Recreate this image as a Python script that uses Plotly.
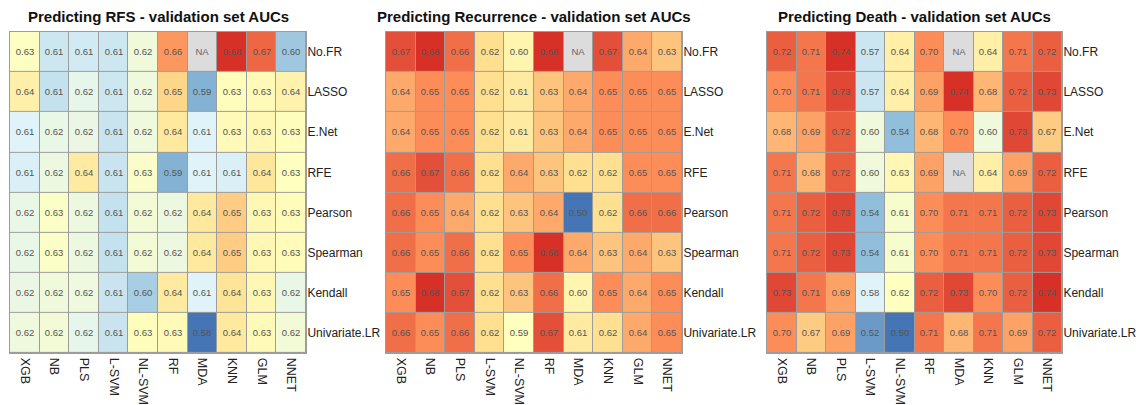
import plotly.graph_objects as go

models = ["XGB", "NB", "PLS", "L-SVM", "NL-SVM", "RF", "MDA", "KNN", "GLM", "NNET"]
selectors = ["No.FR", "LASSO", "E.Net", "RFE", "Pearson", "Spearman", "Kendall", "Univariate.LR"]
titles = ["Predicting RFS - validation set AUCs",
          "Predicting Recurrence - validation set AUCs",
          "Predicting Death - validation set AUCs"]
NA = None

auc_rfs = [
    [0.628, 0.608, 0.609, 0.608, 0.621, 0.661, NA, 0.680, 0.670, 0.598],
    [0.637, 0.606, 0.616, 0.608, 0.620, 0.648, 0.592, 0.630, 0.632, 0.636],
    [0.612, 0.617, 0.618, 0.607, 0.620, 0.641, 0.612, 0.632, 0.633, 0.630],
    [0.611, 0.619, 0.640, 0.607, 0.626, 0.592, 0.612, 0.611, 0.642, 0.629],
    [0.617, 0.627, 0.619, 0.606, 0.622, 0.619, 0.641, 0.650, 0.633, 0.631],
    [0.617, 0.627, 0.619, 0.606, 0.622, 0.619, 0.641, 0.650, 0.633, 0.631],
    [0.618, 0.621, 0.620, 0.607, 0.600, 0.640, 0.612, 0.644, 0.633, 0.617],
    [0.620, 0.622, 0.616, 0.607, 0.630, 0.632, 0.578, 0.641, 0.632, 0.622],
]
auc_recurrence = [
    [0.67, 0.68, 0.66, 0.62, 0.60, 0.68, NA, 0.67, 0.64, 0.63],
    [0.64, 0.65, 0.65, 0.62, 0.61, 0.63, 0.64, 0.65, 0.65, 0.65],
    [0.64, 0.65, 0.65, 0.62, 0.61, 0.63, 0.64, 0.65, 0.65, 0.65],
    [0.66, 0.67, 0.66, 0.62, 0.64, 0.63, 0.62, 0.62, 0.65, 0.65],
    [0.66, 0.65, 0.64, 0.62, 0.63, 0.64, 0.50, 0.62, 0.66, 0.66],
    [0.66, 0.65, 0.66, 0.62, 0.65, 0.68, 0.64, 0.63, 0.64, 0.63],
    [0.65, 0.68, 0.67, 0.62, 0.63, 0.66, 0.60, 0.65, 0.64, 0.65],
    [0.66, 0.65, 0.66, 0.62, 0.59, 0.67, 0.61, 0.62, 0.64, 0.65],
]
auc_death = [
    [0.72, 0.71, 0.74, 0.57, 0.64, 0.70, NA, 0.64, 0.71, 0.72],
    [0.70, 0.71, 0.73, 0.57, 0.64, 0.69, 0.74, 0.68, 0.72, 0.73],
    [0.68, 0.69, 0.72, 0.60, 0.54, 0.68, 0.70, 0.60, 0.73, 0.67],
    [0.71, 0.68, 0.72, 0.60, 0.63, 0.69, NA, 0.64, 0.69, 0.72],
    [0.71, 0.72, 0.73, 0.54, 0.61, 0.70, 0.71, 0.71, 0.72, 0.73],
    [0.71, 0.72, 0.73, 0.54, 0.61, 0.70, 0.71, 0.71, 0.72, 0.73],
    [0.73, 0.71, 0.69, 0.58, 0.62, 0.72, 0.73, 0.70, 0.72, 0.74],
    [0.70, 0.67, 0.69, 0.52, 0.50, 0.71, 0.68, 0.71, 0.69, 0.72],
]
panels = [auc_rfs, auc_recurrence, auc_death]

palette = ["#4575b4", "#91bfdb", "#e0f3f8", "#ffffbf", "#fee090", "#fc8d59", "#d73027"]
colorscale = [[i / 6, c] for i, c in enumerate(palette)]

W, H = 1143, 405
x_px = [(10, 306), (386, 682), (767, 1062)]
y_dom = [1 - 355 / H, 1 - 32 / H]
FONT = "Liberation Sans, Arial, sans-serif"
GRID = "#9c9c9c"

fig = go.Figure()
for k, (z, (x0, x1), title) in enumerate(zip(panels, x_px, titles)):
    ax = "" if k == 0 else str(k + 1)
    fig.add_trace(go.Heatmap(
        z=z, x=models, y=selectors, colorscale=colorscale, showscale=False,
        xgap=1, ygap=1, texttemplate="%{z:.2f}",
        textfont=dict(family=FONT, size=9.5, color="#555555"),
        xaxis="x" + ax, yaxis="y" + ax, hoverongaps=False))
    na_z = [[1 if v is None else None for v in row] for row in z]
    na_txt = [["NA" if v is None else "" for v in row] for row in z]
    fig.add_trace(go.Heatmap(
        z=na_z, x=models, y=selectors, text=na_txt, texttemplate="%{text}",
        colorscale=[[0, "#dcdcdc"], [1, "#dcdcdc"]], showscale=False,
        xgap=1, ygap=1, textfont=dict(family=FONT, size=9.5, color="#666666"),
        xaxis="x" + ax, yaxis="y" + ax, hoverongaps=False))
    dom = [x0 / W, x1 / W]
    fig.update_layout(**{
        "xaxis" + ax: dict(domain=dom, anchor="y" + ax, side="bottom", tickangle=90,
                           showline=True, mirror=True, linecolor=GRID, linewidth=1,
                           ticks="", showgrid=False, zeroline=False, ticklabelstandoff=1,
                           tickfont=dict(family=FONT, size=12.5, color="#222222")),
        "yaxis" + ax: dict(domain=y_dom, anchor="x" + ax, side="right", autorange="reversed",
                           showline=True, mirror=True, linecolor=GRID, linewidth=1,
                           ticks="", showgrid=False, zeroline=False, ticklabelstandoff=-2,
                           tickfont=dict(family=FONT, size=12, color="#222222")),
    })
    fig.add_annotation(x=(x0 + x1) / 2 / W, y=1 - 17 / H, xref="paper", yref="paper",
                       text="<b>" + title + "</b>", showarrow=False, xanchor="center",
                       yanchor="middle", font=dict(family=FONT, size=15, color="#111111"))

fig.update_layout(width=W, height=H, margin=dict(l=0, r=0, t=0, b=0),
                  plot_bgcolor=GRID, paper_bgcolor="white")
fig.write_html("out.html", config={"displayModeBar": False},
               post_script="document.body.style.margin='0';document.body.style.overflow='hidden';")
